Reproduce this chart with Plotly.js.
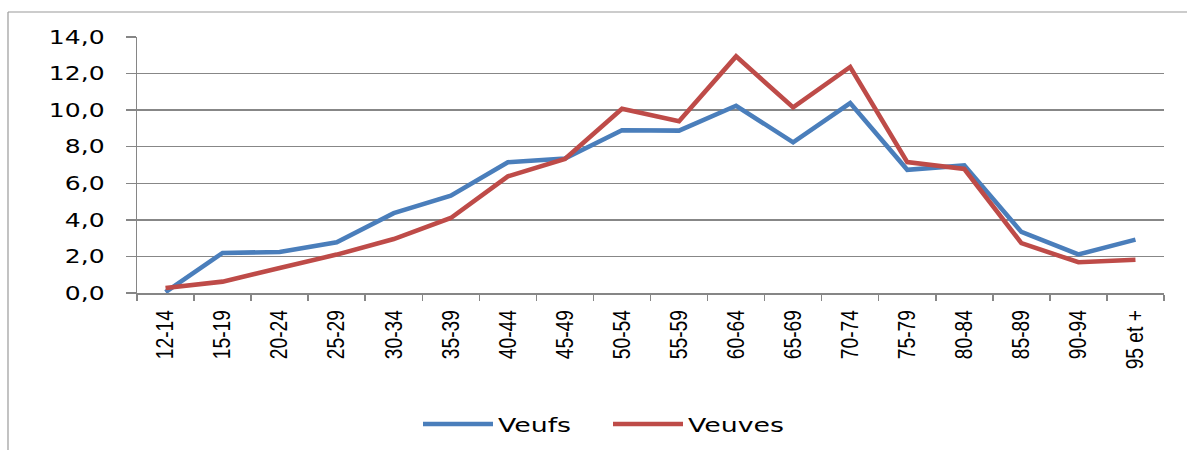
<!DOCTYPE html>
<html>
<head>
<meta charset="utf-8">
<script src="https://cdn.plot.ly/plotly-3.0.1.min.js"></script>
<style>
html,body{margin:0;padding:0;background:#fff;}
#chart{width:1187px;height:450px;}
</style>
</head>
<body>
<div id="chart"></div>
<script>
const categories = ["12-14","15-19","20-24","25-29","30-34","35-39","40-44","45-49","50-54","55-59","60-64","65-69","70-74","75-79","80-84","85-89","90-94","95 et +"];
const veufs  = [0.05, 2.19, 2.24, 2.77, 4.37, 5.32, 7.15, 7.35, 8.90, 8.88, 10.24, 8.24, 10.39, 6.74, 6.98, 3.34, 2.11, 2.92];
const veuves = [0.27, 0.62, 1.37, 2.10, 2.95, 4.10, 6.38, 7.33, 10.08, 9.39, 12.94, 10.15, 12.36, 7.16, 6.78, 2.73, 1.68, 1.82];
const yTickVals = [0, 2, 4, 6, 8, 10, 12, 14];
const yTickText = ["0,0","2,0","4,0","6,0","8,0","10,0","12,0","14,0"];

const W = 1187, H = 450;
const M = {l:137, r:23, t:37, b:157, autoexpand: false};
const pw = W - M.l - M.r, ph = H - M.t - M.b;
const borderX = (8 - M.l) / pw;
const borderY = 1 + (M.t - 12) / ph;

const traces = [
  {x: categories, y: veufs, name: "Veufs", type: "scatter", mode: "lines",
   line: {color: "#4A7EBB", width: 4.6}},
  {x: categories, y: veuves, name: "Veuves", type: "scatter", mode: "lines",
   line: {color: "#BE4B48", width: 4.6}}
];

const layout = {
  width: W, height: H,
  margin: M,
  paper_bgcolor: "#fff", plot_bgcolor: "#fff",
  showlegend: true,
  legend: {orientation: "h", x: (418 - M.l) / pw, xanchor: "left", y: (M.t + ph - 424) / ph, yanchor: "middle",
           font: {family: "DejaVu Sans, Verdana, sans-serif", size: 20, color: "#000"},
           itemwidth: 70, entrywidth: 105, entrywidthmode: "pixels", traceorder: "normal"},
  xaxis: {
    type: "category", range: [-0.5, categories.length - 0.5], tickangle: -90,
    tickfont: {family: "Liberation Sans, Arial, sans-serif", size: 24, color: "#000"},
    showgrid: false, showline: true, linecolor: "#868686", linewidth: 1.5,
    ticks: "outside", tickson: "boundaries", ticklen: 6, tickcolor: "#868686", tickwidth: 1.5,
    ticklabelstandoff: 6, fixedrange: true
  },
  yaxis: {
    range: [0, 14], tickvals: yTickVals, ticktext: yTickText,
    tickfont: {family: "DejaVu Sans, Verdana, sans-serif", size: 19, color: "#000"},
    showgrid: true, gridcolor: "#878787", gridwidth: 1.4,
    showline: true, linecolor: "#868686", linewidth: 1.5,
    ticks: "outside", ticklen: 10, tickcolor: "#868686", tickwidth: 1.5,
    ticklabelstandoff: 17, zeroline: false, fixedrange: true
  },
  shapes: [
    {type: "line", xref: "paper", yref: "paper", x0: borderX, x1: borderX, y0: borderY, y1: -1,
     line: {color: "#9a9a9a", width: 1.2}},
    {type: "line", xref: "paper", yref: "paper", x0: borderX, x1: 1.05, y0: borderY, y1: borderY,
     line: {color: "#9a9a9a", width: 1.2}}
  ]
};

// reshape text proportions (the reference uses a condensed axis font and wide labels)
function reshape(selector, sx, sy, anchor) {
  document.querySelectorAll(selector).forEach(function (t) {
    const b = t.getBBox();
    const ax = anchor === "end" ? b.x + b.width : b.x;
    const ay = b.y + b.height / 2;
    const tr = t.getAttribute("transform") || "";
    t.setAttribute("transform", tr + " translate(" + ax + "," + ay + ") scale(" + sx + "," + sy + ") translate(" + (-ax) + "," + (-ay) + ")");
  });
}

Plotly.newPlot("chart", traces, layout, {displayModeBar: false, staticPlot: true}).then(function () {
  reshape("#chart .xtick text", 0.8, 1, "end");
  reshape("#chart .ytick text", 1.32, 1, "end");
  reshape("#chart .legendtext", 1.34, 1, "start");
});
</script>
</body>
</html>
